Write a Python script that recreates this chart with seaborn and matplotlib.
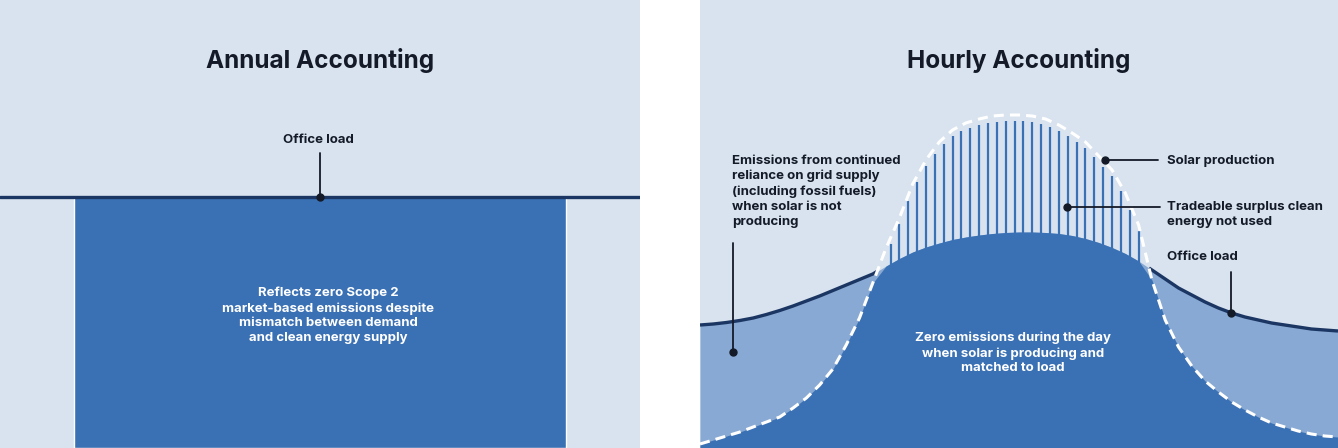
import numpy as np
import pandas as pd
import seaborn as sns
import matplotlib.pyplot as plt

# --- DATA ---
# hourly accounting, half-hour steps over one day
hours = [i * 0.5 for i in range(49)]
office_load = [12.3, 12.4, 12.55, 12.75, 13.0, 13.35, 13.75, 14.2, 14.7, 15.2,
               15.75, 16.3, 16.85, 17.4, 18.2, 18.95, 19.6, 20.1, 20.5, 20.85,
               21.1, 21.3, 21.45, 21.55, 21.6, 21.6, 21.55, 21.45, 21.25, 20.95,
               20.55, 20.05, 19.45, 18.7, 17.8, 16.9, 16.0, 15.3, 14.6, 14.0,
               13.5, 13.1, 12.8, 12.5, 12.3, 12.1, 11.9, 11.8, 11.7]
solar_production = [0.4, 0.8, 1.2, 1.6, 2.1, 2.6, 3.1, 4.0, 5.0, 6.3,
                    7.9, 10.3, 13.0, 16.5, 20.0, 23.0, 26.4, 28.8, 30.6, 31.8,
                    32.5, 32.9, 33.2, 33.3, 33.3, 33.2, 32.9, 32.3, 31.5, 30.6,
                    29.2, 27.8, 25.5, 22.3, 16.8, 12.8, 10.1, 8.2, 6.7, 5.6,
                    4.6, 3.8, 3.1, 2.5, 2.1, 1.7, 1.4, 1.2, 1.1]
# annual accounting: one year of clean supply equals one year of load
annual_categories = ["Year"]
annual_load = [25.1]
annual_clean_supply = [25.1]
# ------------

BG = "#d8e3ef"
DARK_BLUE = "#3a70b4"
LIGHT_BLUE = "#88a9d3"
NAVY = "#1c3663"
INK = "#141a28"
Y_MAX = 44.8

sns.set_theme(style="white")
plt.rcParams["font.family"] = ["Inter", "DejaVu Sans"]

fig = plt.figure(figsize=(13.38, 4.48), dpi=100, facecolor="white")
ax_a = fig.add_axes([0, 0, 640 / 1338, 1])
ax_h = fig.add_axes([700 / 1338, 0, 638 / 1338, 1])

for ax in (ax_a, ax_h):
    ax.set_facecolor(BG)
    for s in ax.spines.values():
        s.set_visible(False)

label_kw = dict(fontsize=9.5, fontweight="bold", color=INK, linespacing=1.3)

# ---------- Annual accounting ----------
annual = pd.DataFrame({"period": annual_categories, "supply": annual_clean_supply})
sns.barplot(data=annual, x="period", y="supply", color=DARK_BLUE, saturation=1,
            width=0.77, ax=ax_a, zorder=2)
ax_a.axhline(annual_load[0], color=NAVY, lw=2.4, zorder=3)
ax_a.set_xlim(-0.5, 0.5)
ax_a.set_ylim(0, Y_MAX)
ax_a.set(xlabel="", ylabel="", xticks=[], yticks=[])

ax_a.text(0.5, 0.866, "Annual Accounting", transform=ax_a.transAxes,
          ha="center", va="center", fontsize=17.5, fontweight="bold", color=INK)
ax_a.text(-0.003, 30.8, "Office load", ha="center", va="center", **label_kw)
ax_a.plot([0, 0], [29.5, annual_load[0]], color=INK, lw=1.3, zorder=4)
ax_a.plot(0, annual_load[0], "o", color=INK, ms=5, zorder=5)
ax_a.text(0.0125, 13.25,
          "Reflects zero Scope 2\nmarket-based emissions despite\n"
          "mismatch between demand\nand clean energy supply",
          ha="center", va="center", fontsize=9.5, fontweight="bold",
          color="white", linespacing=1.3)

# ---------- Hourly accounting ----------
day = pd.DataFrame({"hour": hours, "load": office_load, "solar": solar_production})
x = day["hour"].to_numpy()
load = day["load"].to_numpy()
solar = day["solar"].to_numpy()

ax_h.fill_between(x, 0, load, color=LIGHT_BLUE, lw=0, zorder=1)
ax_h.fill_between(x, 0, np.minimum(load, solar), color=DARK_BLUE, lw=0, zorder=3)

# office load line is only drawn where load exceeds solar
diff = load - solar
cross = np.where(np.sign(diff[:-1]) != np.sign(diff[1:]))[0]
i0, i1 = cross[0], cross[-1]
def crossing(i):
    t = diff[i] / (diff[i] - diff[i + 1])
    xc = x[i] + t * (x[i + 1] - x[i])
    return xc, np.interp(xc, x, load)
xa, ya = crossing(i0)
xb, yb = crossing(i1)
left_seg = pd.DataFrame({"hour": list(x[:i0 + 1]) + [xa],
                         "load": list(load[:i0 + 1]) + [ya]})
right_seg = pd.DataFrame({"hour": [xb] + list(x[i1 + 1:]),
                          "load": [yb] + list(load[i1 + 1:])})
for seg in (left_seg, right_seg):
    sns.lineplot(data=seg, x="hour", y="load", color=NAVY, lw=2.4,
                 solid_capstyle="butt", ax=ax_h, zorder=4)

# vertical hatch for surplus solar, every 20 minutes
stripe_x = (np.arange(72) + 0.5) / 3
s_top = np.interp(stripe_x, x, solar) - 0.6
s_bot = np.interp(stripe_x, x, load) - 0.5
keep = s_top - s_bot > 1.4
ax_h.vlines(stripe_x[keep], s_bot[keep], s_top[keep], color=DARK_BLUE,
            lw=1.6, zorder=4)

sns.lineplot(data=day, x="hour", y="solar", color="white", lw=2.2,
             linestyle=(0, (3.3, 2.0)), ax=ax_h, zorder=5)

ax_h.set_xlim(0, 24)
ax_h.set_ylim(0, Y_MAX)
ax_h.set(xlabel="", ylabel="", xticks=[], yticks=[])

ax_h.text(0.5, 0.866, "Hourly Accounting", transform=ax_h.transAxes,
          ha="center", va="center", fontsize=17.5, fontweight="bold", color=INK)

# emissions callout
ax_h.text(1.2, 25.65, "Emissions from continued\nreliance on grid supply\n"
          "(including fossil fuels)\nwhen solar is not\nproducing",
          ha="left", va="center", **label_kw)
ax_h.plot([1.24, 1.24], [20.5, 9.6], color=INK, lw=1.3, zorder=6)
ax_h.plot(1.24, 9.6, "o", color=INK, ms=5, zorder=7)

# solar production callout
ax_h.text(17.57, 28.7, "Solar production", ha="left", va="center", **label_kw)
ax_h.plot([15.24, 17.23], [28.8, 28.8], color=INK, lw=1.3, zorder=6)
ax_h.plot(15.24, 28.8, "o", color=INK, ms=5, zorder=7)

# surplus callout
ax_h.text(17.57, 23.35, "Tradeable surplus clean\nenergy not used",
          ha="left", va="center", **label_kw)
ax_h.plot([13.81, 17.3], [24.1, 24.1], color=INK, lw=1.3, zorder=6)
ax_h.plot(13.81, 24.1, "o", color=INK, ms=5, zorder=7)

# office load callout
ax_h.text(17.57, 19.1, "Office load", ha="left", va="center", **label_kw)
ax_h.plot([19.98, 19.98], [17.6, 13.5], color=INK, lw=1.3, zorder=6)
ax_h.plot(19.98, 13.5, "o", color=INK, ms=5, zorder=7)

ax_h.text(11.78, 9.5, "Zero emissions during the day\nwhen solar is producing and\n"
          "matched to load", ha="center", va="center", fontsize=9.5,
          fontweight="bold", color="white", linespacing=1.3, zorder=8)

fig.savefig("out.png", dpi=100, facecolor="white")
